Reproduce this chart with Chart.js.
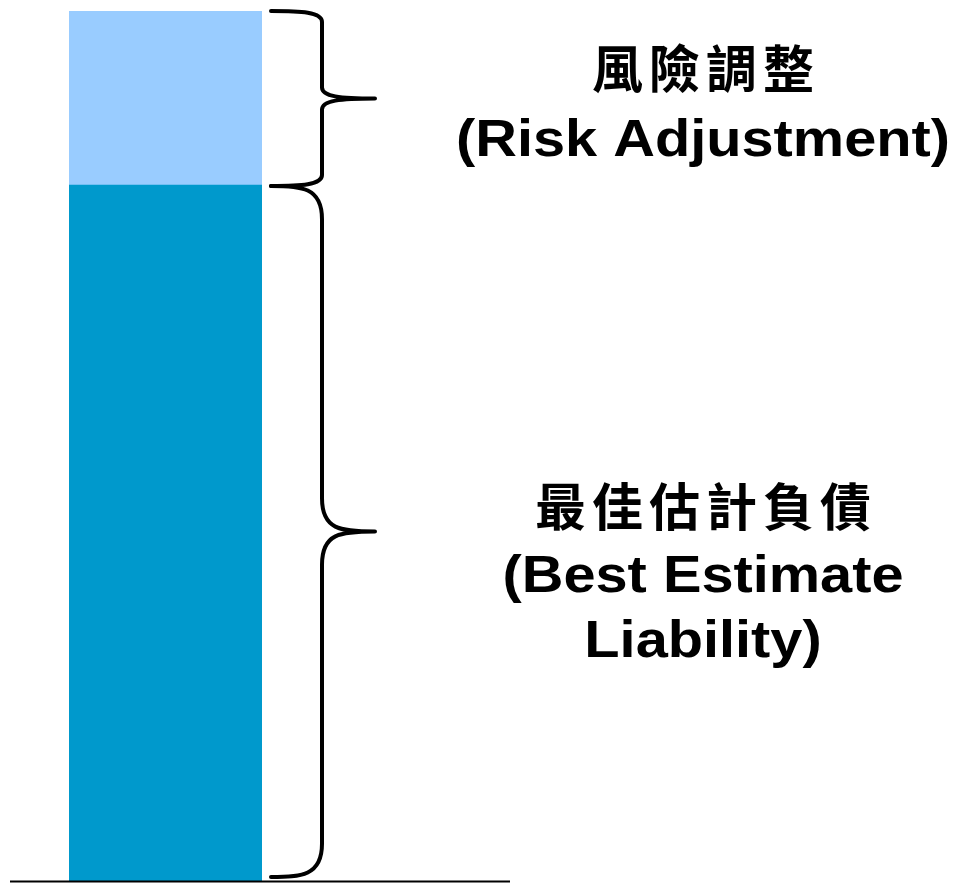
<!DOCTYPE html>
<html>
<head>
<meta charset="utf-8">
<script src="https://cdn.jsdelivr.net/npm/chart.js@4"></script>
<style>
html,body{margin:0;padding:0;background:#fff;}
#wrap{width:955px;height:883px;position:relative;}
</style>
</head>
<body>
<div id="wrap"><canvas id="c" width="955" height="883"></canvas></div>
<script>
const categories = ['Liability'];
const seriesNames = ['Best Estimate Liability', 'Risk Adjustment'];
const bestEstimate = [80];
const riskAdjustment = [20];
const labelsZh = ['最佳估計負債', '風險調整'];
const labelsEn = [['(Best Estimate', 'Liability)'], ['(Risk Adjustment)']];
const colors = ['#0099CC', '#99CCFF'];

const braces = {
  id: 'braces',
  afterDatasetsDraw(chart) {
    const ctx = chart.ctx;
    const y = chart.scales.y;
    const area = chart.chartArea;
    const x0 = area.right + 9;   // brace outer ends
    const xv = area.right + 60;  // brace spine
    const xt = area.right + 113; // brace tip
    const textX = area.right + 441;
    // baseline
    ctx.save();
    ctx.strokeStyle = '#000';
    ctx.lineWidth = 2;
    ctx.beginPath();
    const by = y.getPixelForValue(0) + 0.5;
    ctx.moveTo(area.left - 59, by);
    ctx.lineTo(area.left + 441, by);
    ctx.stroke();
    ctx.restore();

    const segs = [
      {lo: 0, hi: bestEstimate[0], zh: labelsZh[0], en: labelsEn[0], zhOff: -25, enOff: [60, 125], endTrim: 4},
      {lo: bestEstimate[0], hi: bestEstimate[0] + riskAdjustment[0], zh: labelsZh[1], en: labelsEn[1], zhOff: -30, enOff: [57], endTrim: 0}
    ];
    segs.forEach(s => {
      const top = y.getPixelForValue(s.hi) + (s.lo === bestEstimate[0] ? 0 : 1);
      const bot = y.getPixelForValue(s.lo) - s.endTrim + (s.lo === 0 ? 0 : 1);
      const len = bot - top;
      const h = Math.max(11, len * 0.048);
      const mid = (top + bot) / 2;
      ctx.save();
      ctx.strokeStyle = '#000';
      ctx.lineWidth = 4;
      ctx.lineCap = 'round';
      ctx.lineJoin = 'round';
      ctx.beginPath();
      ctx.moveTo(x0, top);
      ctx.bezierCurveTo(x0 + 30, top, xv, top + 1, xv, top + h);
      ctx.lineTo(xv, mid - h);
      ctx.bezierCurveTo(xv, mid - 2, xt - 35, mid, xt, mid);
      ctx.moveTo(xt, mid);
      ctx.bezierCurveTo(xt - 35, mid, xv, mid + 2, xv, mid + h);
      ctx.lineTo(xv, bot - h);
      ctx.bezierCurveTo(xv, bot - 1, x0 + 30, bot, x0, bot);
      ctx.stroke();
      ctx.restore();

      // Chinese label
      ctx.save();
      ctx.fillStyle = '#000';
      ctx.font = 'bold 51px "Noto Sans CJK TC"';
      ctx.textBaseline = 'middle';
      ctx.textAlign = 'center';
      const adv = 57;
      const n = s.zh.length;
      for (let i = 0; i < n; i++) {
        ctx.fillText(s.zh[i], textX + (i - (n - 1) / 2) * adv, mid + s.zhOff);
      }
      // English label
      ctx.font = 'bold 52px "Liberation Sans", Arial, sans-serif';
      ctx.textBaseline = 'alphabetic';
      s.en.forEach((line, k) => {
        ctx.save();
        ctx.translate(textX, mid + s.enOff[k]);
        ctx.scale(1.11, 1);
        ctx.fillText(line, 0, 0);
        ctx.restore();
      });
      ctx.restore();
    });
  }
};

new Chart(document.getElementById('c'), {
  type: 'bar',
  data: {
    labels: categories,
    datasets: [
      {label: seriesNames[0], data: bestEstimate, backgroundColor: colors[0], borderWidth: 0},
      {label: seriesNames[1], data: riskAdjustment, backgroundColor: colors[1], borderWidth: 0}
    ]
  },
  options: {
    responsive: false,
    animation: false,
    devicePixelRatio: 1,
    layout: {padding: {left: 69, right: 693, top: 11, bottom: 2}},
    plugins: {legend: {display: false}, tooltip: {enabled: false}, title: {display: false}},
    scales: {
      x: {stacked: true, display: false, offset: true, grid: {display: false}},
      y: {stacked: true, display: false, min: 0, max: 100}
    },
    datasets: {bar: {barPercentage: 1, categoryPercentage: 1}}
  },
  plugins: [braces]
});
</script>
</body>
</html>
